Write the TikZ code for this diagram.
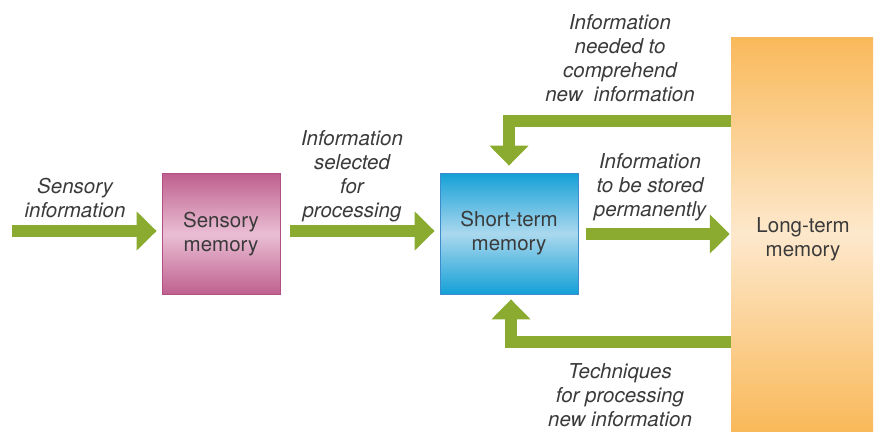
\documentclass[tikz,border=0pt]{standalone}
\usepackage{fontspec}
\setmainfont{TeX Gyre Heros}
\usetikzlibrary{arrows.meta}
\definecolor{arrowgreen}{HTML}{8AAB2F}
\definecolor{txt}{HTML}{3A3A3A}
\tikzset{
  flow/.style={draw=arrowgreen, line width=12pt, line join=miter,
    -{Triangle[width=38pt,length=20pt]}},
  label/.style={align=center, text=txt, inner sep=0pt,
    font={\fontsize{20.5}{24}\selectfont\itshape}},
  boxtext/.style={align=center, text=txt,
    font={\fontsize{20.5}{24}\selectfont}},
  sensbox/.style={boxtext, draw={rgb,255:red,178;green,79;blue,131}, line width=0.8pt,
    top color={rgb,255:red,190;green,96;blue,142}, bottom color={rgb,255:red,190;green,96;blue,142},
    middle color={rgb,255:red,234;green,190;blue,212},
    minimum width=118pt, minimum height=121pt},
  stbox/.style={boxtext, draw={rgb,255:red,60;green,140;blue,205}, line width=0.8pt,
    top color={rgb,255:red,20;green,160;blue,215}, bottom color={rgb,255:red,20;green,160;blue,215},
    middle color={rgb,255:red,170;green,216;blue,238},
    minimum width=138pt, minimum height=121pt},
  ltbox/.style={draw=none,
    top color={rgb,255:red,249;green,185;blue,90}, bottom color={rgb,255:red,249;green,185;blue,90},
    middle color={rgb,255:red,253;green,232;blue,204},
    minimum width=142pt, minimum height=394pt}
}
\begin{document}
\begin{tikzpicture}[x=1pt,y=-1pt]
\useasboundingbox (0,0) rectangle (874,431);
\node[sensbox] (sm) at (221,234) {Sensory\\memory};
\node[stbox] (st) at (509,233.5) {Short-term\\memory};
\node[ltbox] (lt) at (802,234) {};
\node[boxtext] (ltt) at (803,239) {Long-term\\memory};
\coordinate (in) at (12,231);

\draw[flow, shorten >=5pt] (in) -- (sm.west |- in);
\draw[flow, shorten <=10pt, shorten >=5pt] (sm.east |- in) -- (st.west |- in);
\draw[flow, shorten <=8pt, shorten >=1pt] (st.east |- lt.west) -- (lt.west);
\draw[flow] (lt.west |- 0,121) -| ([yshift=7pt]st.north);
\draw[flow] (lt.west |- 0,342) -| ([xshift=2pt,yshift=-5pt]st.south);

\node[label] (l1) at (75,198) {Sensory\\information};
\node[label] (l2) at (352,176) {Information\\selected\\for\\processing};
\node[label] (l3) at (650,187) {Information\\to be stored\\permanently};
\node[label] (l4) at (620,58.5) {Information\\needed to\\comprehend\\new\ \ information};
\node[label] (l5) at (620,395) {Techniques\\for processing\\new information};
\end{tikzpicture}
\end{document}
